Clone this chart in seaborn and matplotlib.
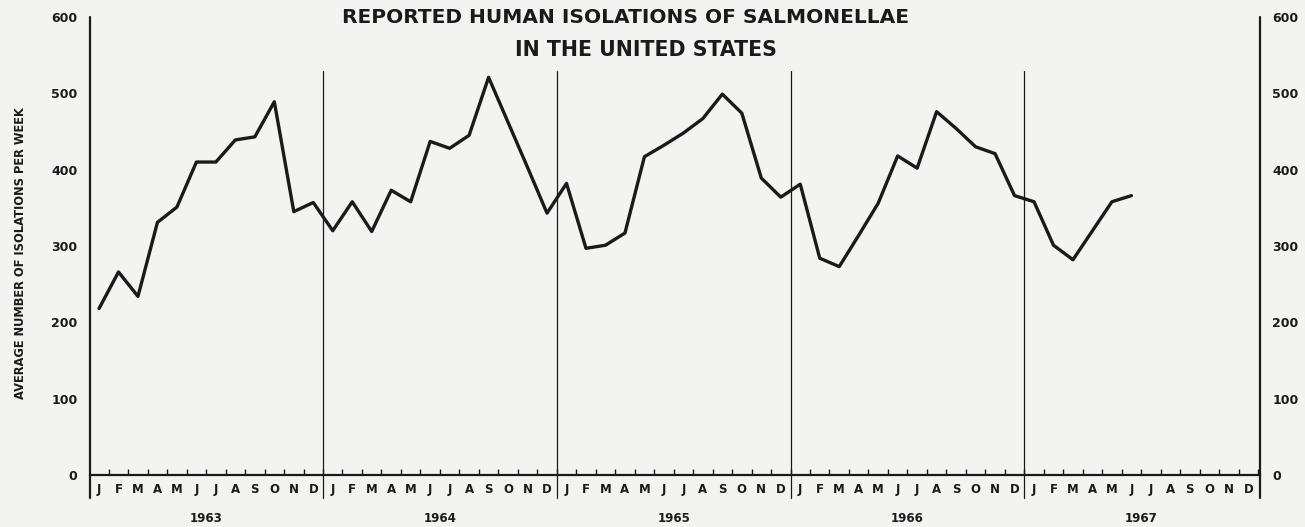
import numpy as np
import pandas as pd
import matplotlib
matplotlib.use("Agg")
import matplotlib.pyplot as plt
import seaborn as sns

# monthly averages (isolations per week)
years = ['1963', '1964', '1965', '1966', '1967']
month_letters = ['J', 'F', 'M', 'A', 'M', 'J', 'J', 'A', 'S', 'O', 'N', 'D']
iso_1963 = [218, 266, 234, 331, 351, 410, 410, 439, 443, 489, 345, 357]
iso_1964 = [320, 358, 319, 373, 358, 437, 428, 445, 521, 462, 403, 343]
iso_1965 = [382, 297, 301, 317, 417, 432, 448, 467, 499, 474, 389, 364]
iso_1966 = [381, 284, 273, 314, 356, 418, 402, 476, 454, 430, 421, 366]
iso_1967 = [358, 301, 282, 320, 358, 366]
yticks = [0, 100, 200, 300, 400, 500, 600]

values = iso_1963 + iso_1964 + iso_1965 + iso_1966 + iso_1967
n_months = 12 * len(years)
df = pd.DataFrame({'month': np.arange(len(values)), 'isolations': values})

sns.set_theme(style="ticks")
plt.rcParams['font.family'] = ['DejaVu Sans']

bg = '#f3f3f1'
ink = '#1a1a1a'
fig = plt.figure(figsize=(13.05, 5.27), dpi=100, facecolor=bg)
ax = fig.add_axes([0.069, 0.0987, 0.8965, 0.869])
ax.set_facecolor(bg)

sns.lineplot(data=df, x='month', y='isolations', ax=ax, color=ink, linewidth=2.4)

x0, x1 = -0.46, n_months - 1 + 0.6
ax.set_xlim(x0, x1)
ax.set_ylim(0, 600)

# spines: bottom axis line, side spines drawn a bit below the axis
for s in ['top', 'left', 'right']:
    ax.spines[s].set_visible(False)
ax.spines['bottom'].set_color(ink)
ax.spines['bottom'].set_linewidth(1.6)
for xx in (x0, x1):
    ax.axvline(xx, ymin=-0.05, ymax=1.0, color=ink, lw=1.6, clip_on=False)

# year dividers
for k in range(1, len(years)):
    ax.axvline(12 * k - 0.5, ymin=-0.05, ymax=0.883, color=ink, lw=0.9, clip_on=False)

ax.set_xticks(np.arange(n_months))
ax.set_xticklabels(month_letters * len(years), fontsize=8.5, fontweight='bold', color=ink)
ax.set_xticks(np.arange(n_months) + 0.5, minor=True)
ax.tick_params(axis='x', which='major', length=0, pad=6)
ax.tick_params(axis='x', which='minor', direction='in', length=4, width=1, color=ink)

ax.set_yticks(yticks)
ax.set_yticklabels([str(v) for v in yticks], fontsize=9, fontweight='bold', color=ink)
ax.tick_params(axis='y', which='major', left=False, right=False, labelleft=True,
               labelright=True, pad=3)

ax.set_xlabel('')
ax.set_ylabel('')
fig.text(0.016, 0.52, 'AVERAGE NUMBER OF ISOLATIONS PER WEEK', rotation=90,
         ha='center', va='center', fontsize=8.3, fontweight='bold', color=ink)

for i, yr in enumerate(years):
    ax.text(12 * i + 5.5, -0.096, yr, transform=ax.get_xaxis_transform(),
            ha='center', va='center', fontsize=8.5, fontweight='bold', color=ink)

fig.text(0.479, 0.966, 'REPORTED HUMAN ISOLATIONS OF SALMONELLAE', ha='center',
         va='center', fontsize=14.5, fontweight='bold', color=ink)
fig.text(0.495, 0.905, 'IN THE UNITED STATES', ha='center', va='center',
         fontsize=14.8, fontweight='bold', color=ink)

fig.savefig('out.png', dpi=100, facecolor=bg)
